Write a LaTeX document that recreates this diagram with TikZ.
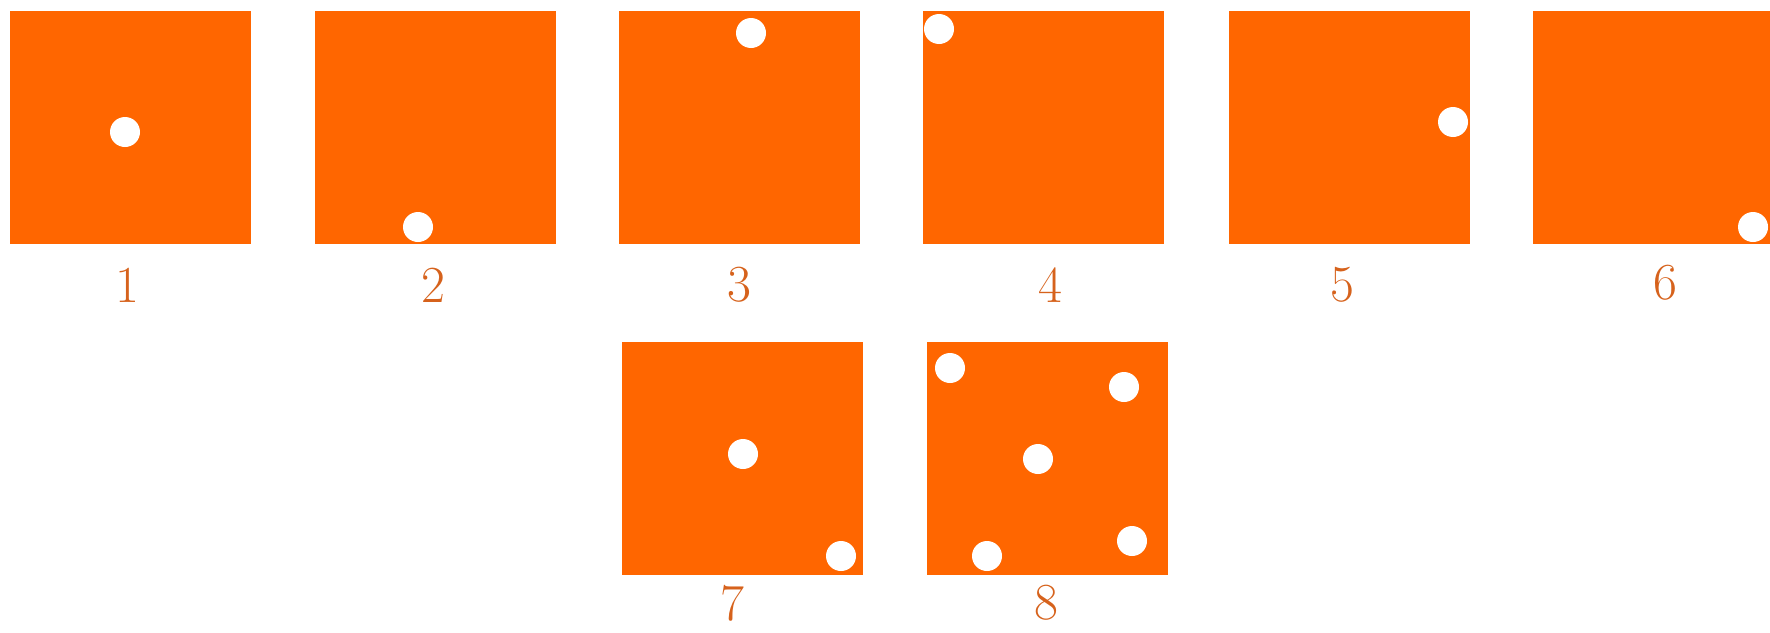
\documentclass[tikz,border=0pt]{standalone}
\usepackage{xcolor}
\usepackage{tikz}
\usetikzlibrary{positioning}
\definecolor{dieorange}{RGB}{255,102,0}
\definecolor{labelbrown}{RGB}{214,98,28}

\begin{document}
\begin{tikzpicture}[
    x=0.5pt, y=-0.5pt,
    panel/.style={fill=dieorange, inner sep=0pt, anchor=north west,
                  minimum width=120.5pt, minimum height=116.5pt},
    pip/.style={circle, fill=white, inner sep=0pt, minimum size=15pt},
    num/.style={text=labelbrown, inner sep=0pt,
                font=\fontsize{26}{30}\selectfont}
]
  \useasboundingbox (0,0) rectangle (1770,632);

  \node[panel] (p1) at (9.5,11) {};
  \node[panel] (p2) at (314.5,11) {};
  \node[panel] (p3) at (619,11) {};
  \node[panel] (p4) at (923,11) {};
  \node[panel] (p5) at (1228.5,11) {};
  \node[panel, minimum width=118.5pt] (p6) at (1533,11) {};
  \node[panel] (p7) at (622,342) {};
  \node[panel] (p8) at (927,342) {};

  \node[pip] (d1) at (125,132) {};
  \node[pip] (d2) at (418,227) {};
  \node[pip] (d3) at (751,33) {};
  \node[pip] (d4) at (939,29) {};
  \node[pip] (d5) at (1453,122) {};
  \node[pip] (d6) at (1753,227) {};
  \node[pip] (d7a) at (743,454) {};
  \node[pip] (d7b) at (841,556) {};
  \node[pip] (d8a) at (950,368) {};
  \node[pip] (d8b) at (1124,387) {};
  \node[pip] (d8c) at (1038,459) {};
  \node[pip] (d8d) at (987,556) {};
  \node[pip] (d8e) at (1132,541) {};

  \node[num] (n1) at (127,285) {1};
  \node[num] (n2) at (433,285) {2};
  \node[num] (n3) at (739,285) {3};
  \node[num] (n4) at (1050,285) {4};
  \node[num] (n5) at (1342,285) {5};
  \node[num] (n6) at (1665,283) {6};
  \node[num] (n7) at (732,603) {7};
  \node[num] (n8) at (1046,603) {8};
\end{tikzpicture}
\end{document}
